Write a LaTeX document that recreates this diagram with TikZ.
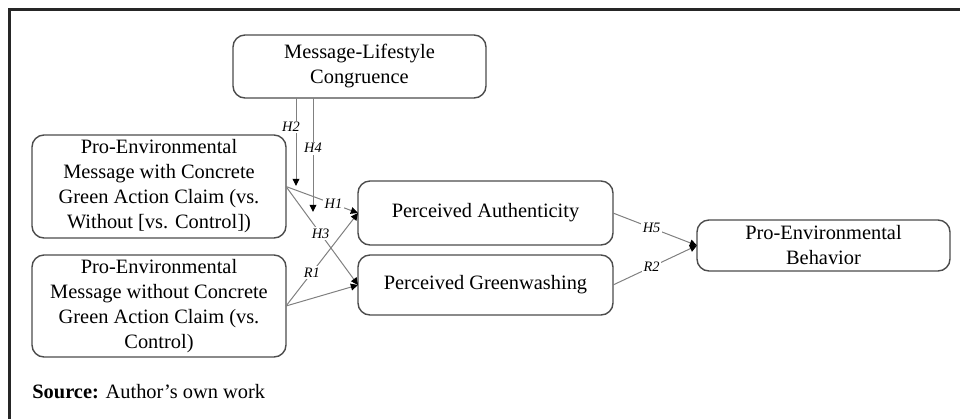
\documentclass[tikz,border=0pt]{standalone}
\usepackage{fontspec}
\setmainfont{Liberation Serif}
\usepackage{tikz}
\usetikzlibrary{arrows.meta, positioning, calc}
\tikzset{
  sbox/.style  = {rectangle, draw=black!70, line width=0.7pt, rounded corners=6pt,
                  align=center, font=\fontsize{10.2}{12.5}\selectfont,
                  inner sep=2pt, outer sep=0pt},
  arr/.style   = {draw=black!50, line width=0.5pt,
                  -{Triangle[length=3.6pt, width=3.4pt, color=black]}},
  lbl/.style   = {font=\fontsize{7.2}{8}\selectfont\itshape, fill=white,
                  inner sep=0.8pt},
}

\begin{document}
\begin{tikzpicture}[x=0.5pt, y=-0.5pt]
  \useasboundingbox (0,0) rectangle (960,419);
  % frame
  \draw[line width=1.7pt, black!85] (9.5,419) -- (9.5,9.5) -- (960,9.5);

  % boxes
  \node[sbox, minimum width=126.5pt, minimum height=31.5pt] (cong) at (359.5,66.5)
    {Message-Lifestyle\\Congruence};
  \node[sbox, minimum width=127pt, minimum height=51.5pt] (withc) at (159,186.5)
    {Pro-Environmental\\Message with Concrete\\Green Action Claim (vs.\\Without [vs. Control])};
  \node[sbox, minimum width=127pt, minimum height=51pt] (woc) at (159,306)
    {Pro-Environmental\\Message without Concrete\\Green Action Claim (vs.\\Control)};
  \node[sbox, minimum width=127.5pt, minimum height=32pt] (auth) at (485.5,213)
    {Perceived Authenticity};
  \node[sbox, minimum width=127.5pt, minimum height=30pt] (green) at (485.5,285)
    {Perceived Greenwashing};
  \node[sbox, minimum width=126.5pt, minimum height=25.5pt] (behav) at (823.5,245.5)
    {Pro-Environmental\\Behavior};

  % moderation end points
  \coordinate (h2end) at (296,186);
  \coordinate (h4end) at (313,212);

  % paths
  \draw[arr] (cong.south -| h2end) -- (h2end) node[lbl, pos=0.33, xshift=-2.5pt] {H2};
  \draw[arr] (cong.south -| h4end) -- (h4end) node[lbl, pos=0.44] {H4};
  \draw[arr] (withc.east) -- (auth.west) node[lbl, pos=0.66] {H1};
  \draw[arr] (withc.east) -- (green.west) node[lbl, pos=0.48] {H3};
  \draw[arr] (woc.east) -- (auth.west) node[lbl, pos=0.36] {R1};
  \draw[arr] (woc.east) -- (green.west);
  \draw[arr] (auth.east) -- (behav.west) node[lbl, pos=0.46] {H5};
  \draw[arr] (green.east) -- (behav.west) node[lbl, pos=0.46] {R2};

  % caption
  \node[anchor=base west, inner sep=0pt, font=\fontsize{10.2}{12}\selectfont] (src) at (32,398)
    {\textbf{Source:} Author’s own work};
\end{tikzpicture}
\end{document}
